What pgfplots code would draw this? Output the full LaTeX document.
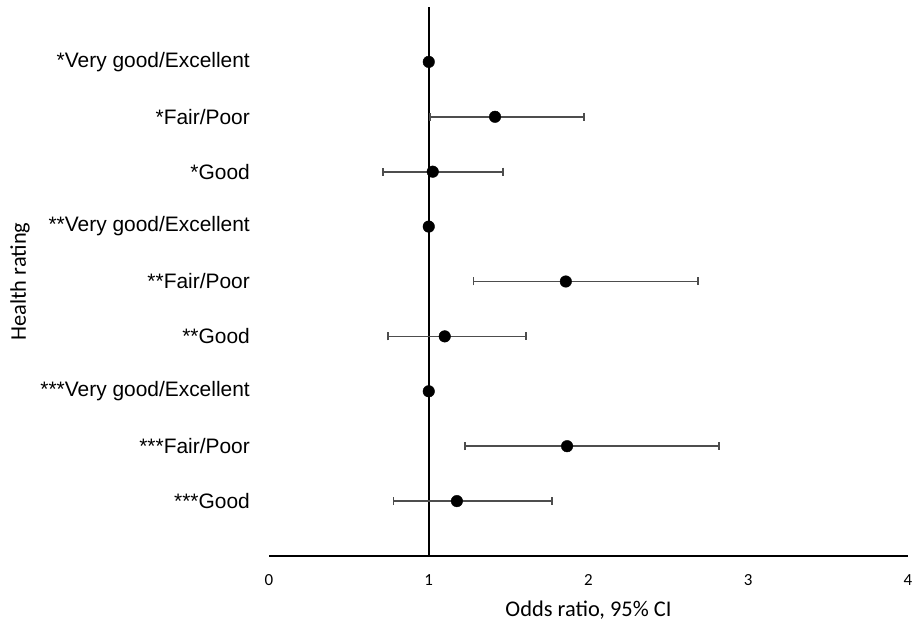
\documentclass[border=0pt]{standalone}
\usepackage{fontspec}
\setmainfont{Carlito}
\newfontfamily\arialf{Liberation Sans}
\usepackage{pgfplots}
\pgfplotsset{compat=1.18}
\definecolor{errgray}{HTML}{4D4D4D}
\pgfplotstableread{
x y ep em
1.415 8 0.556 0.407
1.025 7 0.441 0.313
1.858 5 0.827 0.578
1.100 4 0.510 0.355
1.866 2 0.952 0.640
1.176 1 0.595 0.396
}\withci
\pgfplotstableread{
x y
1 9
1 6
1 3
}\refrows
\begin{document}
\begin{tikzpicture}[x=1bp,y=1bp]
\path[use as bounding box] (0,0) rectangle (920,625);
\begin{axis}[
  at={(269bp,69bp)}, anchor=south west,
  scale only axis, width=639bp, height=549bp,
  xmin=0, xmax=4, ymin=0, ymax=10,
  axis x line=bottom, axis y line=left,
  y axis line style={draw=none},
  x axis line style={line width=1.4bp, -},
  xtick={0,1,2,3,4}, ytick={1,...,9},
  yticklabels={***Good,***Fair/Poor,***Very good/Excellent,**Good,**Fair/Poor,**Very good/Excellent,*Good,*Fair/Poor,*Very good/Excellent},
  major tick length=0pt,
  /pgf/number format/assume math mode=true,
  xticklabel style={font=\fontsize{17}{19}\selectfont, anchor=center, yshift=-24bp},
  yticklabel style={font=\arialf\fontsize{21}{23}\selectfont, anchor=east, inner sep=0pt, xshift=-19bp},
  xlabel={Odds ratio, 95\% CI}, ylabel={Health rating},
  label style={font=\fontsize{22.5}{25}\selectfont},
  xlabel style={at={(axis description cs:0.5,-0.0984)}, anchor=center},
  ylabel style={at={(axis description cs:-0.3897,0.5)}, anchor=center},
  clip=false,
]
\addplot[black, line width=2bp] coordinates {(1,0) (1,10)};
\addplot[only marks, mark=*, mark size=5.8bp, black,
  error bars/.cd, x dir=both, x explicit,
  error bar style={line width=1.7bp, errgray},
  error mark options={line width=1.7bp, errgray, mark size=4bp, rotate=90}]
  table[x=x, y=y, x error plus=ep, x error minus=em] {\withci};
\addplot[only marks, mark=*, mark size=5.8bp, black] table[x=x, y=y] {\refrows};
\end{axis}
\end{tikzpicture}
\end{document}
